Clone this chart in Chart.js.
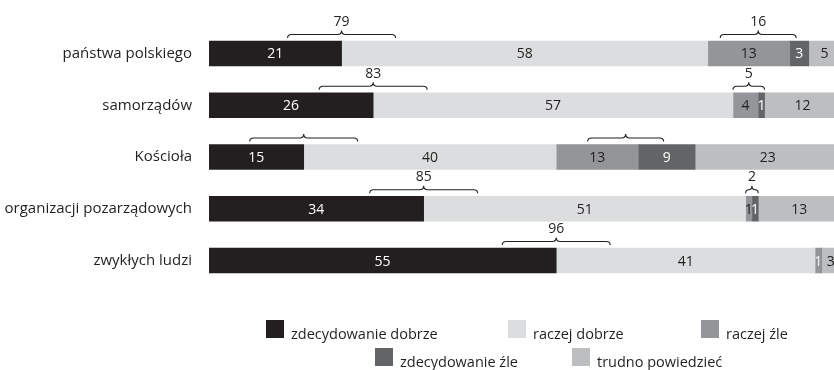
<!DOCTYPE html>
<html>
<head>
<meta charset="utf-8">
<script src="https://cdn.jsdelivr.net/npm/chart.js@4/dist/chart.umd.min.js"></script>
<style>
  html, body { margin: 0; padding: 0; background: #fff; overflow: hidden; }
  #wrap { width: 834px; height: 370px; }
</style>
</head>
<body>
<div id="wrap"><canvas id="c" width="834" height="370"></canvas></div>
<script>
// Ocena działalności (w %)
const categories = ['państwa polskiego', 'samorządów', 'Kościoła', 'organizacji pozarządowych', 'zwykłych ludzi'];
const seriesNames = ['zdecydowanie dobrze', 'raczej dobrze', 'raczej źle', 'zdecydowanie źle', 'trudno powiedzieć'];

const zdecydowanieDobrze = [21, 26, 15, 34, 55];
const raczejDobrze       = [58, 57, 40, 51, 41];
const raczejZle          = [13, 4, 13, 1, 1];
const zdecydowanieZle    = [3, 1, 9, 1, 0];
const trudnoPowiedziec   = [5, 12, 23, 13, 3];

// sums shown above the braces ('' = brace without a number, null = no brace)
const positiveTotals = ['79', '83', '', '85', '96'];
const negativeTotals = ['16', '5', '', '2', null];

const INK = '#231f20';
const FONT = '"Open Sans", "Noto Sans", sans-serif';
const colors = ['#231f20', '#dcddde', '#939598', '#636466', '#bcbec0'];
const labelColors = [
  '#ffffff',
  INK,
  [INK, INK, INK, INK, '#f2f2f2'],
  '#ffffff',
  INK
];
const seriesValues = [zdecydowanieDobrze, raczejDobrze, raczejZle, zdecydowanieZle, trudnoPowiedziec];

function drawBrace(ctx, x1, x2, tip, top) {
  const yEnd = top - 3, yLine = top - 6.5, yTip = top - 10.5;
  const r = Math.min(4, (x2 - x1) / 4);
  ctx.beginPath();
  ctx.moveTo(x1, yEnd);
  ctx.quadraticCurveTo(x1, yLine, x1 + r, yLine);
  ctx.lineTo(tip - r, yLine);
  ctx.quadraticCurveTo(tip, yLine, tip, yTip);
  ctx.quadraticCurveTo(tip, yLine, tip + r, yLine);
  ctx.lineTo(x2 - r, yLine);
  ctx.quadraticCurveTo(x2, yLine, x2, yEnd);
  ctx.stroke();
}

const annotations = {
  id: 'annotations',
  afterDatasetsDraw(chart) {
    const ctx = chart.ctx;
    const xs = chart.scales.x;
    ctx.save();
    ctx.textAlign = 'center';
    ctx.textBaseline = 'middle';
    ctx.font = '14px ' + FONT;
    // segment values
    chart.data.datasets.forEach((ds, di) => {
      const meta = chart.getDatasetMeta(di);
      meta.data.forEach((bar, i) => {
        const v = ds.data[i];
        if (!v) return;
        const c = labelColors[di];
        ctx.fillStyle = Array.isArray(c) ? c[i] : c;
        ctx.fillText(String(v), (bar.x + bar.base) / 2, bar.y + 1);
      });
    });
    // braces with sums
    ctx.strokeStyle = INK;
    ctx.lineWidth = 1.1;
    ctx.fillStyle = INK;
    ctx.textBaseline = 'alphabetic';
    const meta0 = chart.getDatasetMeta(0);
    categories.forEach((cat, i) => {
      const bar = meta0.data[i];
      const top = bar.y - bar.height / 2;
      const mid = xs.getPixelForValue(zdecydowanieDobrze[i]);
      drawBrace(ctx, mid - 54, mid + 54, mid, top);
      if (positiveTotals[i]) ctx.fillText(positiveTotals[i], mid, top - 15);
      if (negativeTotals[i] !== null) {
        const pos = zdecydowanieDobrze[i] + raczejDobrze[i];
        const neg = raczejZle[i] + zdecydowanieZle[i];
        const a = xs.getPixelForValue(pos), b = xs.getPixelForValue(pos + neg);
        const c = (a + b) / 2, w = Math.min(b - a, 76);
        drawBrace(ctx, c - w / 2, c + w / 2, c, top);
        if (negativeTotals[i]) ctx.fillText(negativeTotals[i], c, top - 15);
      }
    });
    ctx.restore();
  },
  afterDraw(chart) {
    // legend in two rows
    const ctx = chart.ctx;
    const items = [
      { i: 0, x: 266, y: 320 },
      { i: 1, x: 508, y: 320 },
      { i: 2, x: 701, y: 320 },
      { i: 3, x: 375, y: 348 },
      { i: 4, x: 572, y: 348 }
    ];
    ctx.save();
    ctx.font = '14.5px ' + FONT;
    ctx.textAlign = 'left';
    ctx.textBaseline = 'alphabetic';
    items.forEach(it => {
      ctx.fillStyle = colors[it.i];
      ctx.fillRect(it.x, it.y, 18, 18);
      ctx.fillStyle = INK;
      ctx.fillText(seriesNames[it.i], it.x + 25, it.y + 18.5);
    });
    ctx.restore();
  }
};

new Chart(document.getElementById('c'), {
  type: 'bar',
  data: {
    labels: categories,
    datasets: seriesValues.map((vals, k) => ({
      label: seriesNames[k],
      data: vals,
      backgroundColor: colors[k],
      borderWidth: 0,
      barThickness: 25
    }))
  },
  options: {
    indexAxis: 'y',
    responsive: false,
    animation: false,
    devicePixelRatio: 1,
    layout: { padding: { top: 27.6, bottom: 83.6, left: 0, right: 0 } },
    plugins: { legend: { display: false }, tooltip: { enabled: false } },
    scales: {
      x: { stacked: true, min: 0, max: 99, display: false },
      y: {
        stacked: true,
        afterFit(scale) { scale.width = 209; },
        grid: { display: false, drawTicks: false },
        border: { display: false },
        ticks: { color: INK, font: { family: FONT, size: 15 }, padding: 17 }
      }
    }
  },
  plugins: [annotations]
});
</script>
</body>
</html>
